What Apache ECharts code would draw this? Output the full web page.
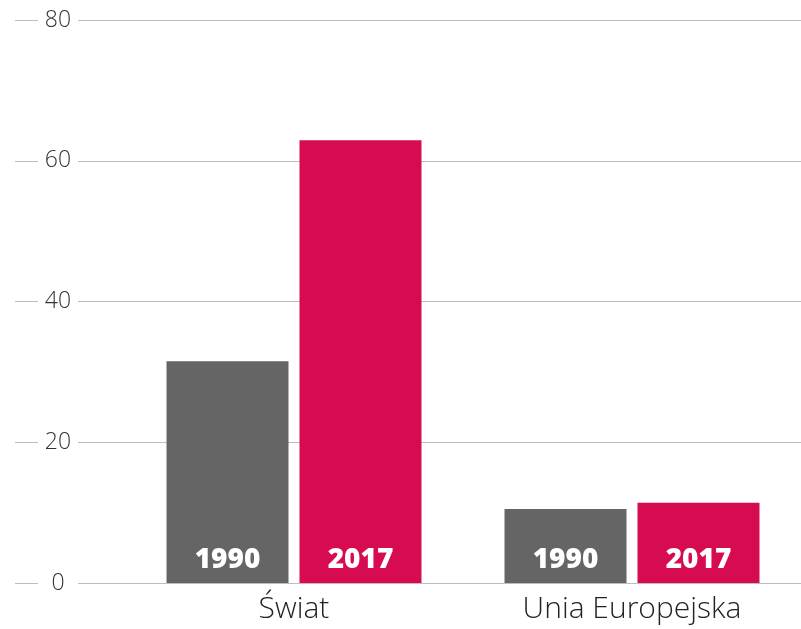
<!DOCTYPE html>
<html>
<head>
<meta charset="utf-8">
<script src="https://cdn.jsdelivr.net/npm/echarts@6/dist/echarts.min.js"></script>
<style>
  html, body { margin: 0; padding: 0; background: #fff; }
  #chart { width: 801px; height: 629px; }
</style>
</head>
<body>
<div id="chart"></div>
<script>
// dane
let categories = ['Świat', 'Unia Europejska'];
let years = ['1990', '2017'];
let values1990 = [31.5, 10.5];
let values2017 = [62.9, 11.4];
let yTicks = [0, 20, 40, 60, 80];

let colors = ['#656565', '#d60b51'];
let font = '"Open Sans", "Noto Sans", sans-serif';

let myChart = echarts.init(document.getElementById('chart'));

function barSeries(name, data, color) {
    return {
        name: name,
        type: 'bar',
        xAxisIndex: 1,
        yAxisIndex: 1,
        data: data,
        barWidth: 122,
        barGap: '9%',
        itemStyle: {color: color},
        label: {
            show: true,
            position: 'insideBottom',
            distance: 9,
            formatter: '{a}',
            color: '#fff',
            fontFamily: font,
            fontWeight: 800,
            fontSize: 28
        }
    };
}

myChart.setOption({
    animation: false,
    backgroundColor: '#fff',
    grid: [
        {left: 15, right: 0, top: 20, bottom: 46},   // linie siatki + etykiety osi y
        {left: 125, right: 0, top: 20, bottom: 46}   // slupki
    ],
    xAxis: [
        {gridIndex: 0, type: 'value', show: false},
        {
            gridIndex: 1,
            type: 'category',
            data: categories,
            axisLine: {show: false},
            axisTick: {show: false},
            axisLabel: {
                margin: 11,
                color: '#222',
                fontFamily: font,
                fontWeight: 300,
                fontSize: 30
            }
        }
    ],
    yAxis: [
        {
            gridIndex: 0,
            type: 'value',
            min: yTicks[0],
            max: yTicks[yTicks.length - 1],
            interval: 20,
            axisLine: {show: false},
            axisTick: {show: false},
            splitLine: {lineStyle: {color: '#bdbdbd', width: 1}},
            axisLabel: {
                inside: true,
                margin: 43,
                align: 'center',
                width: 40,
                backgroundColor: '#fff',
                color: '#333',
                fontFamily: font,
                fontWeight: 300,
                fontSize: 23
            }
        },
        {
            gridIndex: 1,
            type: 'value',
            min: yTicks[0],
            max: yTicks[yTicks.length - 1],
            interval: 20,
            show: false
        }
    ],
    series: [
        barSeries(years[0], values1990, colors[0]),
        barSeries(years[1], values2017, colors[1])
    ]
});
</script>
</body>
</html>
